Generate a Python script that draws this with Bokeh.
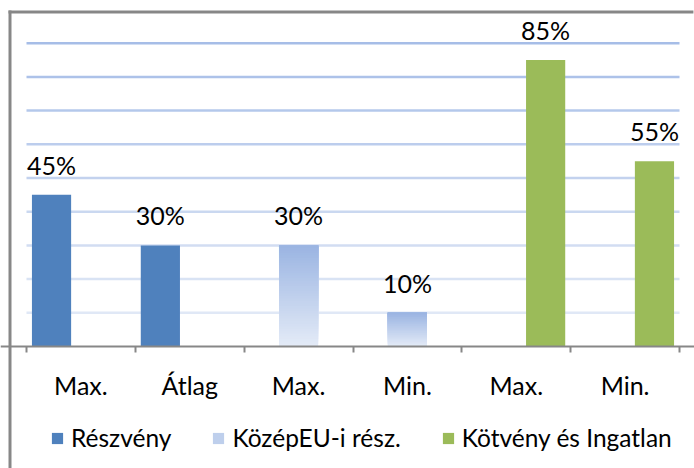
import numpy as np
from bokeh.plotting import figure
from bokeh.models import (FixedTicker, Legend, LegendItem, ColumnDataSource, Range1d)
from bokeh.core.properties import value
from bokeh.embed import file_html
from bokeh.resources import INLINE

# ---- data ----
categories = ["Max.", "Átlag", "Max.", "Min.", "Max.", "Min."]
series_names = ["Részvény", "KözépEU-i rész.", "Kötvény és Ingatlan"]
series_of_category = [0, 0, 1, 1, 2, 2]
values = [45, 30, 30, 10, 85, 55]
grid_ticks = [10, 20, 30, 40, 50, 60, 70, 80, 90]

# ---- styles / layout (pixels) ----
FONT = value("Lato")
BLUE = "#4f81bd"
GREEN = "#9bbb59"
GRAD_TOP = (154, 180, 226)
GRAD_BOT = (228, 235, 247)
GRID_TOP = (166, 189, 231)
GRID_BOT = (224, 232, 246)
AXIS_GRAY = "#878787"
dodge = [-0.27, 0.0, 0.27]
bar_w = 0.36

W, H = 694, 468                # canvas size
PLOT_L, PLOT_R = 26, 679       # category area, canvas px
ZERO_Y, TOP_Y = 346, 42.7      # canvas px of 0 and of top gridline
BORDER_X, BORDER_Y = 9.5, 11.5 # outer frame lines, canvas px
n = len(categories)
ymax = max(grid_ticks)
cat_px = (PLOT_R - PLOT_L) / n
val_px = (ZERO_Y - TOP_Y) / ymax

x_start = -PLOT_L / cat_px
x_end = n + (W - PLOT_R) / cat_px
y_end = ZERO_Y / val_px
y_start = -(H - ZERO_Y) / val_px
bx = x_start + BORDER_X / cat_px
by = y_end - BORDER_Y / val_px

def mix(a, b, t):
    return "#%02x%02x%02x" % tuple(int(round(a[k] + (b[k] - a[k]) * t)) for k in range(3))

xs = [i + 0.5 + dodge[s] for i, s in enumerate(series_of_category)]

p = figure(width=W, height=H, output_backend="svg", toolbar_location=None,
           x_range=Range1d(x_start, x_end), y_range=Range1d(y_start, y_end),
           min_border=0)
p.title.visible = False
p.outline_line_color = None
p.background_fill_color = "white"
p.border_fill_color = "white"
p.xgrid.visible = False
p.ygrid.visible = False

xax = p.below[0]
yax = p.left[0]
yax.visible = False

# outer frame border (left & top) as thin filled strips
hx = 1.5 / cat_px
hy = 1.5 / val_px
p.quad(left=[bx - hx], right=[bx + hx], bottom=[y_start], top=[by + hy],
       fill_color=AXIS_GRAY, line_color=None)
p.quad(left=[bx - hx], right=[x_end - 0.01], bottom=[by - hy], top=[by + hy],
       fill_color=AXIS_GRAY, line_color=None, level="overlay")

# gridlines across the category area, colour fading downwards
gcol = [mix(GRID_TOP, GRID_BOT, (ymax - v) / (ymax - min(grid_ticks))) for v in grid_ticks]
p.segment(x0=[0] * len(grid_ticks), x1=[n] * len(grid_ticks), y0=grid_ticks,
          y1=grid_ticks, line_color=gcol, line_width=2.5)

# solid series
renderers = {}
for s, col in [(0, BLUE), (2, GREEN)]:
    idx = [i for i in range(n) if series_of_category[i] == s]
    src = ColumnDataSource(dict(x=[xs[i] for i in idx], top=[values[i] for i in idx]))
    renderers[s] = p.vbar(x="x", top="top", bottom=0, width=bar_w, source=src,
                          fill_color=col, line_color=None)

# gradient series: overlapping slices (each from its level up to the bar top)
nslice = 40
gx0, gx1, gb, gt, gc = [], [], [], [], []
for i in range(n):
    if series_of_category[i] != 1:
        continue
    v = values[i]
    for k in range(nslice):
        gx0.append(xs[i] - bar_w / 2)
        gx1.append(xs[i] + bar_w / 2)
        gb.append(v * k / nslice)
        gt.append(v)
        gc.append(mix(GRAD_BOT, GRAD_TOP, (k + 0.5) / nslice))
gsrc = ColumnDataSource(dict(left=gx0, right=gx1, bottom=gb, top=gt, color=gc))
renderers[1] = p.quad(left="left", right="right", bottom="bottom", top="top",
                      fill_color="color", line_color=None, source=gsrc)

# data labels
lsrc = ColumnDataSource(dict(x=xs, y=values, t=[f"{v}%" for v in values]))
p.text(x="x", y="y", text="t", source=lsrc, text_align="center",
       text_baseline="alphabetic", y_offset=-30, text_font=FONT,
       text_font_size="25px", text_color="#000000")

# x axis at zero: labels at category centres, ticks at boundaries
xax.fixed_location = 0
xax.ticker = FixedTicker(ticks=[i + 0.5 for i in range(n)],
                         minor_ticks=list(range(n + 1)))
xax.major_label_overrides = {i + 0.5: c for i, c in enumerate(categories)}
xax.major_tick_line_color = None
xax.major_tick_out = 0
xax.major_tick_in = 0
xax.minor_tick_line_color = AXIS_GRAY
xax.minor_tick_line_width = 2
xax.minor_tick_out = 6
xax.minor_tick_in = 0
xax.axis_line_color = AXIS_GRAY
xax.axis_line_width = 2
xax.major_label_standoff = 17
xax.major_label_text_font = "Lato"
xax.major_label_text_font_size = "25px"
xax.major_label_text_color = "#000000"

items = []
for s, name in enumerate(series_names):
    if s == 1:
        items.append(LegendItem(label=name, renderers=[renderers[1]], index=nslice // 2))
    else:
        items.append(LegendItem(label=name, renderers=[renderers[s]]))
legend = Legend(items=items, orientation="horizontal", location=(50, 16),
                glyph_width=14, glyph_height=14, label_standoff=7, spacing=40,
                label_text_font="Lato", label_text_font_size="24.5px",
                label_text_color="#000000", border_line_color=None,
                background_fill_alpha=0, padding=0, margin=0)
p.add_layout(legend)

open("out.html", "w").write(file_html(p, INLINE))
